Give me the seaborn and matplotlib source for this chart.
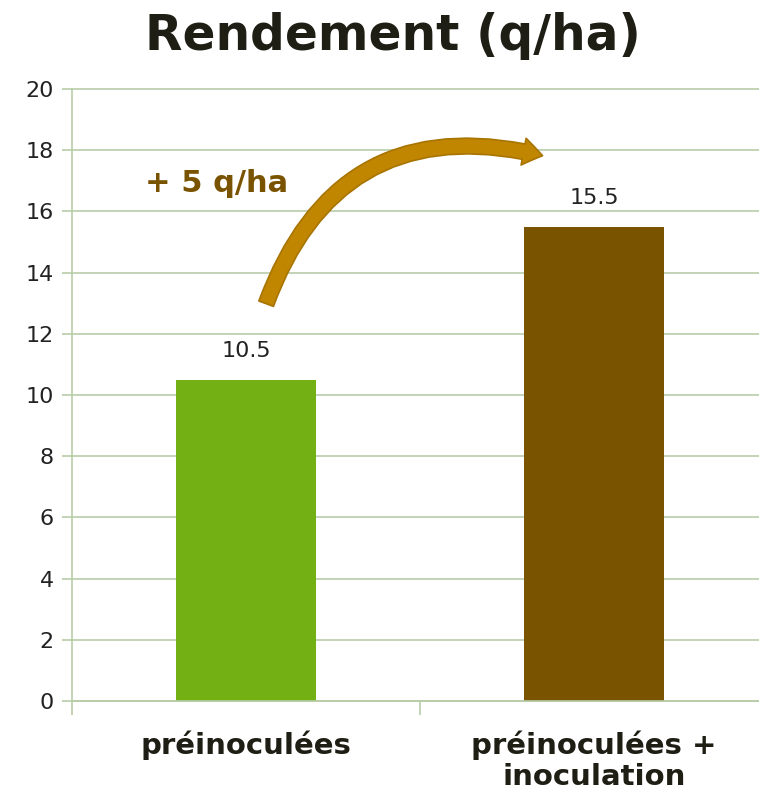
import matplotlib
matplotlib.use("Agg")
import matplotlib.pyplot as plt
import seaborn as sns
import pandas as pd
from matplotlib.patches import FancyArrowPatch

categories = ["préinoculées", "préinoculées +\ninoculation"]
values = [10.5, 15.5]
bar_colors = ["#72B013", "#7A5300"]
yticks = [0, 2, 4, 6, 8, 10, 12, 14, 16, 18, 20]
title = "Rendement (q/ha)"
gain_label = "+ 5 q/ha"

sns.set_theme(style="white")
plt.rcParams['font.family'] = ['DejaVu Sans']

df = pd.DataFrame({"cat": categories, "val": values})

fig = plt.figure(figsize=(7.59, 7.95), dpi=100)
ax = fig.add_axes([0.0949, 0.1182, 0.9051, 0.7698])

sns.barplot(data=df, x="cat", y="val", hue="cat", palette=bar_colors,
            width=0.4, ax=ax, legend=False, saturation=1, linewidth=0)

grid_c = "#B9CCA9"
ax.set_ylim(0, 20)
ax.set_xlim(-0.5, 1.474)
ax.set_yticks(yticks)
ax.set_yticklabels([str(t) for t in yticks])
ax.yaxis.grid(True, color=grid_c, linewidth=1.2, clip_on=False)
ax.set_axisbelow(True)
for s in ["top", "right"]:
    ax.spines[s].set_visible(False)
for s in ["left", "bottom"]:
    ax.spines[s].set_color(grid_c)
    ax.spines[s].set_linewidth(1.2)

ax.tick_params(axis="y", left=True, length=7, width=1.2, color=grid_c,
               labelsize=16, labelcolor="#222222", pad=6)
ax.set_xticks([0, 1])
ax.set_xticklabels(categories, fontsize=21, fontweight="bold", color="#1E1E14",
                   linespacing=1.15)
ax.tick_params(axis="x", bottom=False, pad=15)
ax.set_xticks([-0.5, 0.5], minor=True)
ax.tick_params(axis="x", which="minor", bottom=True, length=10, width=1.2, color=grid_c)
ax.set_xlabel("")
ax.set_ylabel("")

for i, v in enumerate(values):
    ax.text(i, v + 0.6, f"{v}", ha="center", va="bottom", fontsize=16, color="#222222")

fig.text(0.517, 0.955, title, ha="center", va="center", fontsize=35,
         fontweight="bold", color="#1E1E14")

ax.text(-0.29, 16.9, gain_label, ha="left", va="center", fontsize=22,
        fontweight="bold", color="#7A5300")

arrow = FancyArrowPatch((0.055, 12.9), (0.86, 17.8),
                        connectionstyle="arc3,rad=-0.45",
                        arrowstyle="simple,head_length=1.0,head_width=1.4,tail_width=0.8",
                        mutation_scale=14, facecolor="#C08600", edgecolor="#A87400",
                        linewidth=1.2)
ax.add_patch(arrow)

fig.savefig("out.png", dpi=100)
